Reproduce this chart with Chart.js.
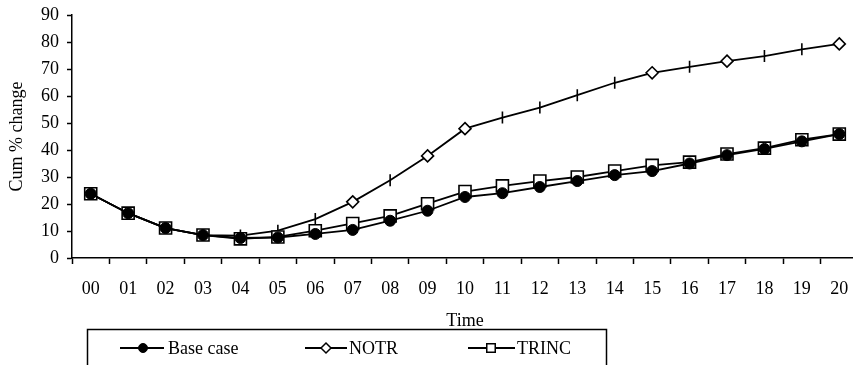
<!DOCTYPE html>
<html>
<head>
<meta charset="utf-8">
<script src="https://cdn.jsdelivr.net/npm/chart.js@4/dist/chart.umd.min.js"></script>
<style>
  html, body { margin: 0; padding: 0; background: #fff; overflow: hidden; }
  /* the x axis runs a few pixels past the right edge and gets clipped */
  #wrap { width: 853px; height: 365px; overflow: hidden; }
</style>
</head>
<body>
<div id="wrap"><canvas id="cum-chart" width="858" height="365"></canvas></div>
<script>
var timeLabels = ['00', '01', '02', '03', '04', '05', '06', '07', '08', '09', '10',
                  '11', '12', '13', '14', '15', '16', '17', '18', '19', '20'];
var baseCase = [23.8, 16.6, 11.1, 8.5, 7.4, 7.6, 8.9, 10.4, 13.8, 17.5, 22.6,
                24.0, 26.3, 28.5, 30.7, 32.2, 35.0, 38.1, 40.4, 43.2, 45.9];
var notr = [23.8, 16.6, 11.1, 8.5, 8.3, 10.1, 14.4, 20.8, 28.8, 37.8, 47.9,
            52.0, 55.7, 60.3, 64.9, 68.6, 70.8, 72.9, 74.8, 77.3, 79.3];
var trinc = [23.8, 16.6, 11.1, 8.5, 7.1, 7.8, 10.1, 12.8, 15.6, 20.1, 24.6,
             26.7, 28.5, 30.0, 32.2, 34.3, 35.5, 38.5, 40.7, 43.8, 45.9];
var yTicks = [0, 10, 20, 30, 40, 50, 60, 70, 80, 90];

// NOTR only shows diamonds on some points, plain bars elsewhere
var diamondAt = ['07', '09', '10', '15', '17', '20'];
var notrStyles = timeLabels.map(function(t) {
    return diamondAt.indexOf(t) >= 0 ? 'rectRot' : 'line';
});

var serif = { family: 'Liberation Serif, Times New Roman, serif', size: 18 };

// boxed legend under the axis title, line + marker like the series
var boxLegend = {
    id: 'boxLegend',
    afterDraw: function(chart) {
        var ctx = chart.ctx;
        var y = 348;
        var items = [
            { x1: 120, x2: 164, mx: 143, text: 'Base case', tx: 168,
              pt: { pointStyle: 'circle', radius: 4.5, rotation: 0, borderWidth: 1 }, fill: '#000' },
            { x1: 305, x2: 347, mx: 326, text: 'NOTR', tx: 349,
              pt: { pointStyle: 'rectRot', radius: 5, rotation: 0, borderWidth: 1.5 }, fill: '#fff' },
            { x1: 468, x2: 515, mx: 491, text: 'TRINC', tx: 517,
              pt: { pointStyle: 'rect', radius: 6, rotation: 0, borderWidth: 1.5 }, fill: '#fff' }
        ];
        ctx.save();
        ctx.strokeStyle = '#000';
        ctx.lineWidth = 1.5;
        ctx.strokeRect(87.5, 329.5, 519, 60);
        ctx.font = serif.size + 'px ' + serif.family;
        ctx.textBaseline = 'middle';
        items.forEach(function(it) {
            ctx.strokeStyle = '#000';
            ctx.lineWidth = 1.8;
            ctx.beginPath();
            ctx.moveTo(it.x1, y);
            ctx.lineTo(it.x2, y);
            ctx.stroke();
            ctx.fillStyle = it.fill;
            ctx.lineWidth = it.pt.borderWidth;
            Chart.helpers.drawPoint(ctx, it.pt, it.mx, y);
            ctx.fillStyle = '#000';
            ctx.fillText(it.text, it.tx, y + 1);
        });
        ctx.restore();
    }
};

var config = {
    type: 'line',
    data: {
        labels: timeLabels,
        datasets: [{
            label: 'Base case',
            data: baseCase,
            order: 0,
            borderColor: '#000',
            borderWidth: 1.8,
            pointStyle: 'circle',
            pointRadius: 5.5,
            pointBackgroundColor: '#000',
            pointBorderColor: '#000',
            pointBorderWidth: 1
        }, {
            label: 'NOTR',
            data: notr,
            order: 2,
            borderColor: '#000',
            borderWidth: 1.8,
            pointStyle: notrStyles,
            pointRotation: 90,
            pointRadius: 6,
            pointBackgroundColor: '#fff',
            pointBorderColor: '#000',
            pointBorderWidth: 1.6
        }, {
            label: 'TRINC',
            data: trinc,
            order: 1,
            borderColor: '#000',
            borderWidth: 1.8,
            pointStyle: 'rect',
            pointRadius: 8.5,
            pointBackgroundColor: '#fff',
            pointBorderColor: '#000',
            pointBorderWidth: 1.6
        }]
    },
    options: {
        responsive: false,
        animation: false,
        events: [],
        layout: {
            autoPadding: false,
            padding: { top: 15, right: 0, bottom: 33, left: 0 }
        },
        plugins: {
            legend: { display: false },
            tooltip: { enabled: false }
        },
        scales: {
            x: {
                offset: true,
                grid: {
                    offset: true,
                    drawOnChartArea: false,
                    drawTicks: true,
                    tickLength: 6,
                    tickColor: '#000',
                    tickWidth: 1.5
                },
                border: { display: true, color: '#000', width: 1.5 },
                ticks: {
                    color: '#000',
                    font: serif,
                    padding: 14,
                    maxRotation: 0,
                    autoSkip: false
                },
                title: {
                    display: true,
                    text: 'Time',
                    color: '#000',
                    font: serif,
                    padding: { top: 0, bottom: 0 }
                },
                afterFit: function(scale) {
                    scale.height = 74;
                    scale.paddingRight = 0;
                    scale.paddingLeft = 0;
                }
            },
            y: {
                min: 0,
                max: 90,
                afterBuildTicks: function(scale) {
                    scale.ticks = yTicks.map(function(v) { return { value: v }; });
                },
                grid: {
                    drawOnChartArea: false,
                    drawTicks: true,
                    tickLength: 5,
                    tickColor: '#000',
                    tickWidth: 1.5
                },
                border: { display: true, color: '#000', width: 1.5 },
                ticks: {
                    color: '#000',
                    font: serif,
                    padding: 8
                },
                title: {
                    display: true,
                    text: 'Cum % change',
                    color: '#000',
                    font: serif,
                    padding: { top: 6, bottom: 0 }
                },
                afterFit: function(scale) {
                    scale.width = 72;
                    scale.paddingTop = 0;
                    scale.paddingBottom = 0;
                }
            }
        }
    },
    plugins: [boxLegend]
};

var ctx = document.getElementById('cum-chart').getContext('2d');
var chart = new Chart(ctx, config);
</script>
</body>
</html>
